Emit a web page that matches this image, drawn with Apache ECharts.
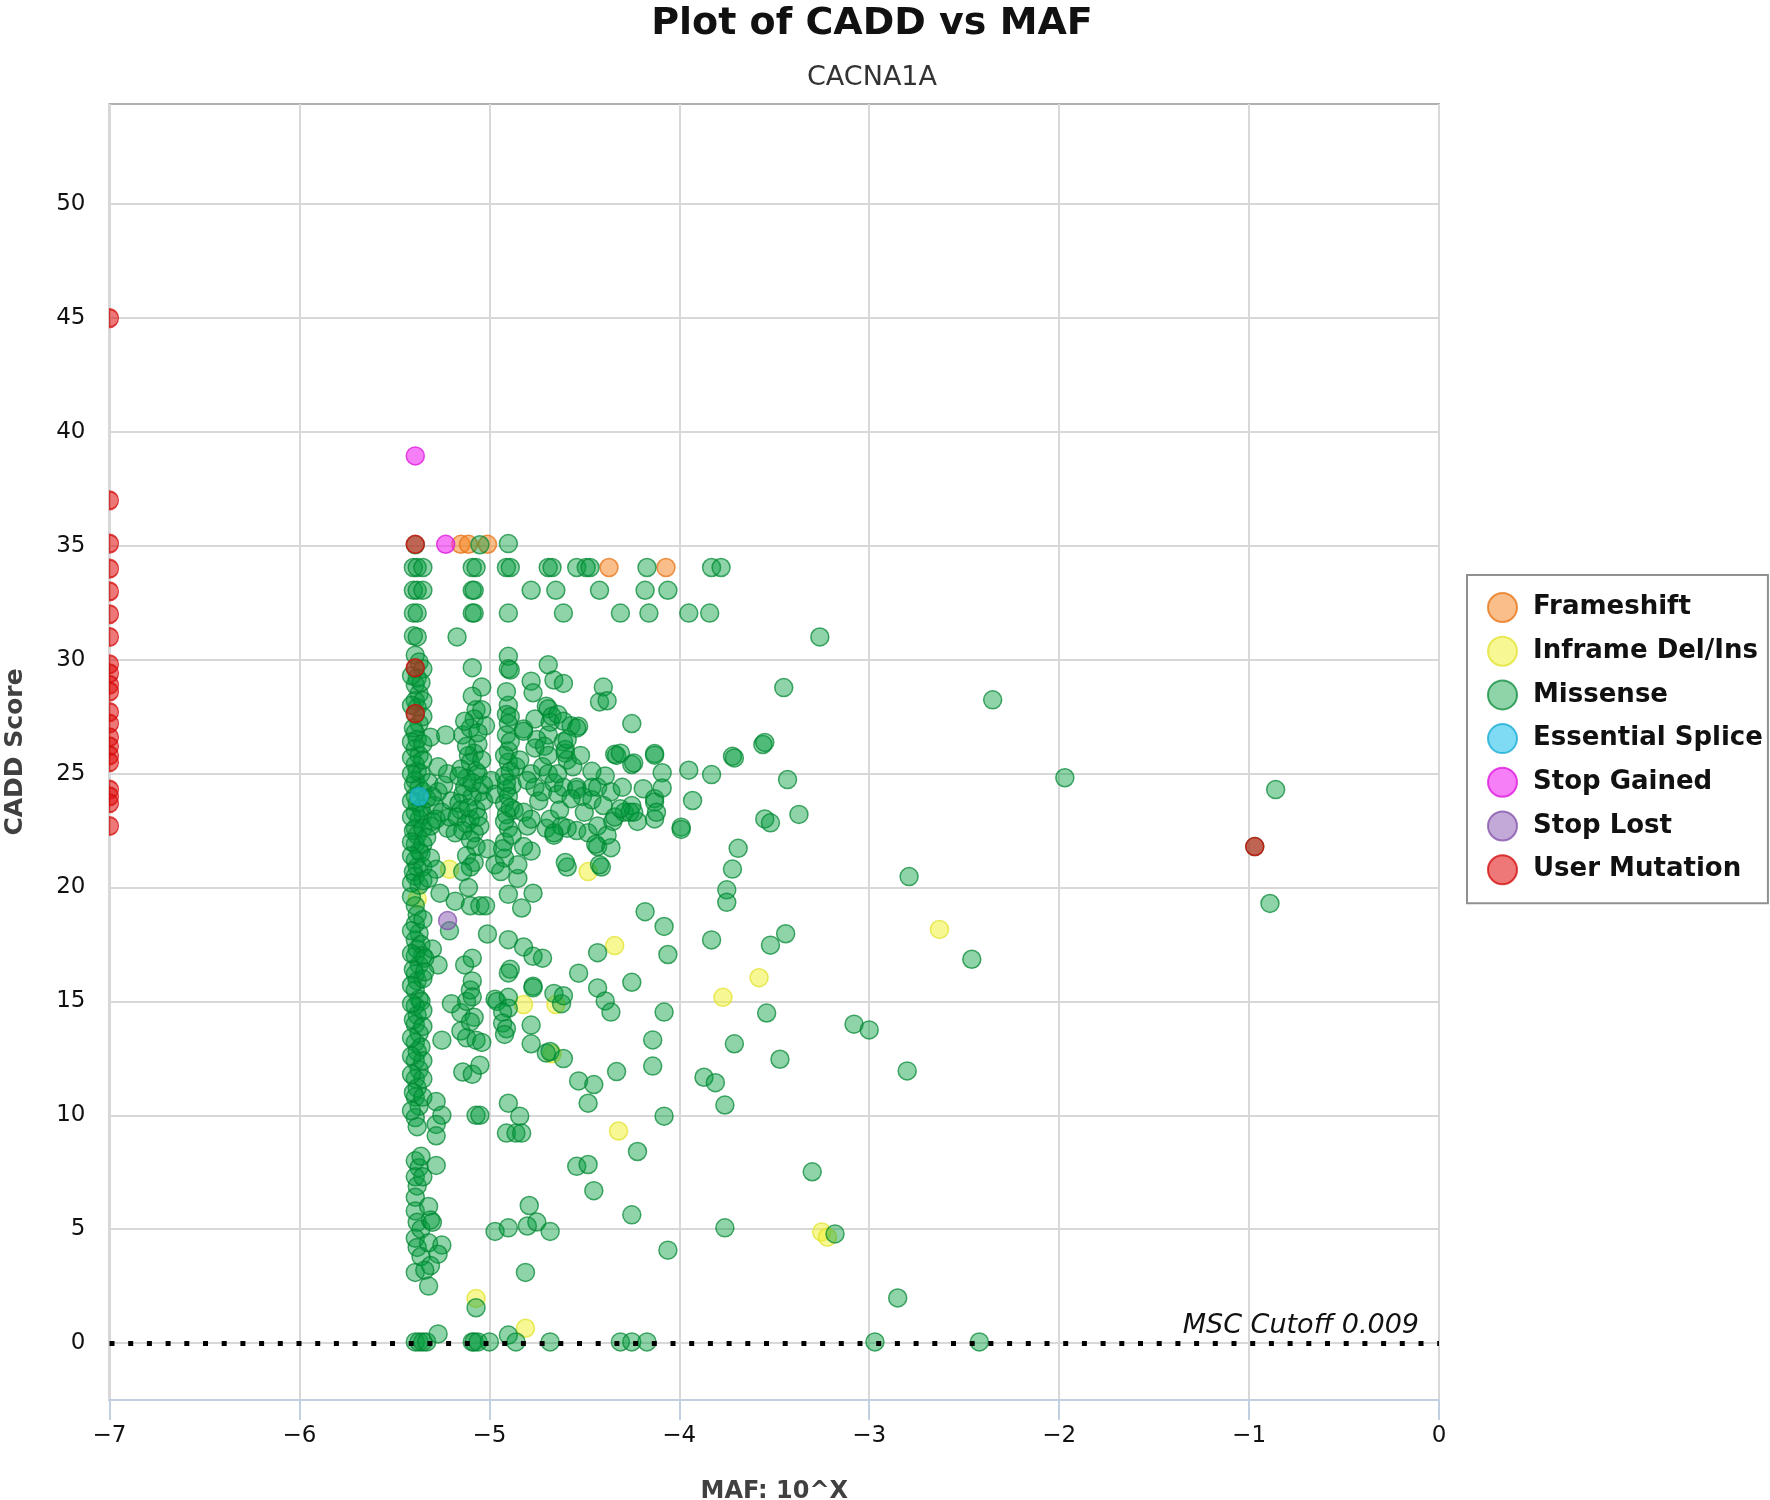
<!DOCTYPE html>
<html>
<head>
<meta charset="utf-8">
<script src="https://cdn.jsdelivr.net/npm/echarts@6/dist/echarts.min.js"></script>
<style>
html,body{margin:0;padding:0;background:#fff;}
#chart{width:1770px;height:1500px;}
</style>
</head>
<body>
<div id="chart"></div>
<script>
// ---------------- DATA ----------------
const categories = ['Frameshift', 'Inframe Del/Ins', 'Missense', 'Essential Splice', 'Stop Gained', 'Stop Lost', 'User Mutation'];
const xTicks = [-7, -6, -5, -4, -3, -2, -1, 0];
const yTicks = [0, 5, 10, 15, 20, 25, 30, 35, 40, 45, 50];
const cutoffValue = 0.009;
const cutoffLabel = 'MSC Cutoff 0.009';

const frameshift = [[-5.15,35.07],[-5.11,35.07],[-5.01,35.07],[-4.37,34.05],[-4.07,34.05]];

const inframe = [[-5.38,19.5],[-5.21,20.8],[-4.48,20.7],[-4.34,17.45],[-4.82,14.86],[-4.65,14.86],[-4.67,12.7],
  [-4.32,9.31],[-5.07,1.96],[-4.81,0.65],[-3.58,16.04],[-3.77,15.18],[-2.63,18.16],[-3.25,4.88],[-3.22,4.65]];

const missense = [
  // rows at the top
  [-5.39,35.05],[-5.05,35.05],[-4.90,35.1],
  [-5.40,34.05],[-5.38,34.05],[-5.35,34.05],[-5.09,34.05],[-5.07,34.05],[-4.91,34.05],[-4.89,34.05],[-4.69,34.05],[-4.67,34.05],[-4.54,34.05],[-4.49,34.05],[-4.47,34.05],[-4.17,34.05],[-3.83,34.05],[-3.78,34.05],
  [-5.40,33.05],[-5.38,33.05],[-5.35,33.05],[-5.09,33.05],[-5.08,33.05],[-4.78,33.05],[-4.65,33.05],[-4.42,33.05],[-4.18,33.05],[-4.06,33.05],
  [-5.40,32.05],[-5.38,32.05],[-5.09,32.05],[-5.08,32.05],[-4.90,32.05],[-4.61,32.05],[-4.31,32.05],[-4.16,32.05],[-3.95,32.05],[-3.84,32.05],
  [-5.40,31.05],[-5.38,31.0],[-5.17,31.0],[-3.26,31.0],
  // column near -5.4
  [-5.39,30.2],[-5.37,29.9],[-5.39,29.6],[-5.38,29.2],[-5.39,28.9],[-5.37,28.5],[-5.39,28.2],[-5.38,27.9],[-5.39,27.6],[-5.37,27.2],
  [-5.39,26.8],[-5.38,26.5],[-5.39,26.1],[-5.37,25.8],[-5.39,25.4],[-5.38,25.1],[-5.39,24.7],[-5.37,24.4],[-5.39,24.0],[-5.38,23.7],
  [-5.39,23.3],[-5.37,23.0],[-5.39,22.6],[-5.38,22.3],[-5.39,21.9],[-5.37,21.6],[-5.39,21.2],[-5.38,20.9],[-5.39,20.5],[-5.37,20.1],
  [-5.39,19.2],[-5.38,18.8],[-5.39,18.4],[-5.37,18.0],[-5.39,17.7],[-5.38,17.3],[-5.39,17.0],[-5.37,16.6],[-5.39,16.2],[-5.38,15.9],
  [-5.39,15.5],[-5.37,15.1],[-5.39,14.8],[-5.38,14.4],[-5.39,14.0],[-5.37,13.6],[-5.39,13.2],[-5.38,12.8],[-5.39,12.4],[-5.37,12.0],
  [-5.39,11.6],[-5.38,11.2],[-5.39,10.8],[-5.37,10.4],[-5.39,9.9],[-5.38,9.5],[-5.39,8.0],[-5.37,7.7],[-5.39,7.3],[-5.38,6.9],
  [-5.39,6.4],[-5.39,5.8],[-5.38,5.3],[-5.39,4.6],[-5.38,4.2],[-5.39,3.1],[-5.39,0.05],[-5.37,0.05],[-5.35,0.05],
  [-5.36,29.0],[-5.40,27.0],[-5.36,25.0],[-5.40,24.5],[-5.36,23.5],[-5.40,22.5],[-5.36,21.5],[-5.40,20.7],[-5.36,17.5],[-5.40,16.4],
  [-5.36,15.0],[-5.40,14.2],[-5.36,13.0],[-5.40,11.0],[-5.36,8.2],[-5.36,5.0],[-5.36,3.8],
  [-5.35,29.6],[-5.41,29.3],[-5.35,28.2],[-5.41,28.0],[-5.35,27.5],[-5.41,26.4],[-5.35,26.3],[-5.41,25.7],[-5.35,25.6],[-5.41,25.0],
  [-5.35,24.2],[-5.41,23.8],[-5.35,23.2],[-5.41,23.1],[-5.35,22.6],[-5.41,22.0],[-5.35,21.9],[-5.41,21.4],[-5.35,20.9],[-5.41,20.2],
  [-5.35,20.3],[-5.41,19.6],[-5.35,18.6],[-5.41,18.1],[-5.35,17.0],[-5.41,17.1],[-5.35,16.0],[-5.41,15.7],[-5.35,14.6],[-5.41,14.9],
  [-5.35,13.9],[-5.41,13.4],[-5.35,12.4],[-5.41,12.6],[-5.35,11.6],[-5.41,11.8],[-5.35,10.8],[-5.41,10.2],
  // right of the column
  [-5.31,26.6],[-5.23,26.7],[-5.14,26.7],[-5.32,24.6],[-5.27,24.2],[-5.29,23.6],[-5.25,23.3],[-5.30,22.9],[-5.22,22.6],[-5.31,22.7],
  [-5.33,23.9],[-5.28,23.0],[-5.24,24.5],[-5.20,23.8],[-5.18,22.4],[-5.22,25.0],[-5.27,25.3],[-5.33,22.2],[-5.30,24.0],[-5.21,23.1],
  [-5.31,21.3],[-5.28,20.8],[-5.32,20.4],[-5.26,19.75],[-5.18,19.4],[-5.21,18.1],[-5.30,17.3],[-5.27,16.6],[-5.34,16.9],[-5.34,16.3],
  [-5.13,16.6],[-5.09,16.9],[-5.20,14.9],[-5.15,14.5],[-5.12,15.0],[-5.10,15.5],[-5.09,15.9],[-5.09,15.2],[-5.08,14.3],[-5.10,14.1],
  [-5.15,13.7],[-5.12,13.4],[-5.07,13.3],[-5.04,13.2],[-5.25,13.3],[-5.14,11.9],[-5.09,11.8],[-5.05,12.2],[-5.28,10.6],[-5.25,10.0],
  [-5.28,9.6],[-5.28,9.1],[-5.07,10.0],[-5.05,10.0],[-5.28,7.8],[-5.35,7.3],[-5.32,6.0],[-5.31,5.4],[-5.30,5.3],[-5.32,4.4],
  [-5.25,4.3],[-5.27,3.9],[-5.31,3.4],[-5.34,3.2],[-5.32,2.5],[-5.33,0.05],[-5.27,0.4],
  // blob near -5.1
  [-5.09,29.65],[-5.04,28.8],[-5.09,28.4],[-5.07,27.8],[-5.04,27.8],[-5.08,27.4],[-5.02,27.1],[-5.10,27.0],[-5.06,26.3],[-5.08,25.9],
  [-5.11,25.8],[-5.10,25.5],[-5.07,25.1],[-5.06,25.0],[-5.12,24.8],[-5.13,24.4],[-5.14,24.1],[-5.05,24.2],[-5.09,24.0],[-5.03,23.8],
  [-5.16,23.7],[-5.15,23.4],[-5.07,23.4],[-5.17,23.1],[-5.10,23.0],[-5.12,22.8],[-5.05,22.7],[-5.08,22.4],
  [-5.13,27.3],[-5.06,26.8],[-5.12,26.2],[-5.04,25.6],[-5.15,25.2],[-5.09,24.6],[-5.03,24.5],[-5.16,24.9],[-5.11,23.5],[-5.06,23.1],
  [-5.14,22.5],[-5.10,22.1],[-5.07,21.8],[-5.12,21.4],[-5.08,21.1],
  [-5.10,20.9],[-5.14,20.7],[-5.11,20.0],[-5.10,19.2],[-5.05,19.2],[-5.02,19.2],
  // -5.0 to -4.75
  [-5.01,21.7],[-4.97,21.0],[-4.92,21.3],[-4.94,20.7],[-4.85,20.4],[-4.77,19.75],[-4.83,19.1],[-4.90,19.7],[-4.85,21.0],[-4.78,21.6],
  [-4.99,24.7],[-4.97,24.1],
  [-4.90,30.15],[-4.90,29.6],[-4.89,29.55],[-4.90,28.0],[-4.91,27.6],[-4.89,27.5],[-4.90,27.2],[-4.91,26.7],[-4.90,26.0],[-4.90,25.5],
  [-4.92,24.9],[-4.91,24.3],[-4.92,23.7],[-4.91,23.2],[-4.90,22.6],[-4.92,22.0],[-4.88,24.5],[-4.87,23.4],[-4.86,25.3],
  [-4.91,28.6],[-4.89,26.4],[-4.92,25.8],[-4.89,25.1],[-4.91,24.6],[-4.90,24.0],[-4.89,23.5],[-4.92,22.9],[-4.88,22.3],[-4.93,21.7],
  [-4.82,26.96],[-4.78,25.0],[-4.76,24.4],[-4.75,26.5],[-4.76,27.4],[-4.82,23.3],[-4.80,22.7],[-4.82,21.8],[-4.78,29.06],[-4.77,28.55],
  [-4.82,26.86],[-4.76,26.13],
  [-4.84,25.6],[-4.80,24.7],[-4.74,23.8],[-4.72,25.3],[-4.78,23.0],[-4.70,22.6],[-4.72,24.2],
  // -4.72 to -4.5
  [-4.69,29.78],[-4.66,29.11],[-4.61,28.96],[-4.70,27.96],[-4.69,27.85],[-4.68,27.26],[-4.67,27.52],[-4.69,26.7],[-4.71,26.2],[-4.69,25.8],
  [-4.69,25.0],[-4.66,24.6],[-4.64,24.1],[-4.68,23.0],[-4.66,22.3],[-4.64,27.6],[-4.61,27.3],[-4.57,27.1],[-4.53,27.08],[-4.61,26.4],
  [-4.60,25.9],[-4.59,25.6],[-4.61,24.4],[-4.54,24.4],[-4.62,22.7],[-4.59,22.6],[-4.54,22.5],[-4.54,24.3],[-4.51,24.0],[-4.54,27.0],
  [-4.59,20.9],[-4.60,26.06],[-4.59,26.5],[-4.66,22.4],[-4.60,21.1],
  [-4.63,23.4],[-4.57,23.9],[-4.50,23.3],[-4.48,22.4],[-4.56,25.3],[-4.52,25.8],[-4.64,25.0],
  // -4.5 to -4.2
  [-4.46,24.4],[-4.46,23.85],[-4.43,24.4],[-4.39,24.9],[-4.36,24.2],[-4.43,22.7],[-4.35,22.9],[-4.29,23.3],[-4.25,23.6],[-4.22,22.9],
  [-4.34,25.85],[-4.33,25.8],[-4.25,25.4],[-4.43,21.8],[-4.41,20.9],[-4.40,28.8],[-4.42,28.15],[-4.38,28.2],[-4.25,27.2],[-4.44,21.9],
  [-4.42,21.0],[-4.34,23.1],[-4.26,23.3],[-4.24,25.47],[-4.36,21.75],
  [-4.46,25.1],[-4.40,23.6],[-4.38,22.3],[-4.30,24.4],
  // -4.3 to -3.9
  [-4.31,25.9],[-4.13,25.88],[-4.13,25.81],[-4.09,25.04],[-3.95,25.15],[-3.83,24.96],[-4.19,24.34],[-4.13,23.9],[-4.13,23.75],[-4.09,24.37],
  [-4.24,23.31],[-4.31,23.46],[-4.13,23.01],[-3.93,23.82],[-3.99,22.65],[-3.99,22.55],[-4.12,23.3],
  // -3.9 to -3.0
  [-3.72,25.76],[-3.71,25.69],[-3.56,26.28],[-3.55,26.37],[-3.43,24.74],[-3.55,23.01],[-3.52,22.84],[-3.37,23.21],[-3.69,21.72],[-3.72,20.81],
  [-3.75,19.9],[-3.75,19.35],[-3.45,28.78],[-3.83,17.7],[-3.52,17.47],[-3.44,17.97],[-3.54,14.49],[-3.71,13.14],[-3.87,11.67],[-3.81,11.43],
  [-3.76,10.45],[-3.76,5.06],[-3.47,12.46],[-3.08,14.0],[-3.00,13.75],[-3.30,7.52],[-3.18,4.79],
  // far right
  [-2.80,11.95],[-2.85,1.98],[-2.97,0.05],[-2.42,0.05],[-2.35,28.24],[-1.97,24.82],[-2.79,20.48],[-2.46,16.85],[-0.86,24.3],[-0.89,19.3],[-0.97,21.8],
  // lower middle
  [-5.01,17.96],[-4.90,17.71],[-4.82,17.39],[-4.77,16.98],[-4.72,16.9],[-4.89,16.41],[-4.90,16.25],[-4.77,15.67],[-4.77,15.6],[-4.97,15.1],
  [-4.96,15.0],[-4.90,15.18],[-4.90,14.7],[-4.93,14.53],[-4.93,14.05],[-4.91,13.8],[-4.92,13.55],[-4.78,13.96],[-4.78,13.14],[-4.70,12.73],
  [-4.68,12.8],[-4.61,12.49],[-4.62,14.9],[-4.66,15.35],[-4.61,15.25],
  [-4.53,16.24],[-4.43,17.14],[-4.43,15.59],[-4.39,15.02],[-4.36,14.53],[-4.25,15.84],[-4.53,11.51],[-4.45,11.35],[-4.48,10.53],[-4.33,11.92],
  [-4.14,12.16],[-4.08,14.53],[-4.14,13.31],[-4.18,18.94],[-4.08,18.29],[-4.06,17.06],[-4.08,9.96],[-4.22,8.41],[-4.54,7.76],[-4.48,7.84],
  [-4.45,6.69],[-4.25,5.63],[-4.06,4.08],
  [-4.90,10.53],[-4.84,9.96],[-4.91,9.22],[-4.86,9.22],[-4.83,9.22],[-4.79,6.04],[-4.80,5.14],[-4.75,5.31],[-4.68,4.9],[-4.97,4.9],
  [-4.90,5.06],[-4.81,3.1],[-5.07,1.55],
  // bottom row
  [-5.09,0.05],[-5.08,0.05],[-5.06,0.05],[-5.00,0.05],[-4.90,0.35],[-4.86,0.05],[-4.68,0.05],[-4.31,0.05],[-4.25,0.05],[-4.17,0.05]
];

const essentialSplice = [[-5.37,24.0]];
const stopGained = [[-5.39,38.95],[-5.23,35.07]];
const stopLost = [[-5.22,18.55]];
// user mutations without MAF sit at the left edge (10^-7)
const userMutationNoMaf = [[-7,45.0],[-7,37.0],[-7,35.1],[-7,34.0],[-7,33.0],[-7,32.0],[-7,31.0],[-7,29.8],[-7,29.4],[-7,28.9],
  [-7,28.6],[-7,27.7],[-7,27.2],[-7,26.6],[-7,26.2],[-7,25.8],[-7,25.5],[-7,24.3],[-7,24.0],[-7,23.7],[-7,22.7]];
const userMutation = [[-5.39,35.07],[-5.39,29.65],[-5.39,27.64],[-0.97,21.8]];

// ---------------- STYLE ----------------
const FONT = 'DejaVu Sans';
const styles = {
  'Frameshift':      {color: 'rgba(245,130,30,0.65)', borderColor: 'rgba(230,115,20,0.95)'},
  'Inframe Del/Ins': {color: 'rgba(240,240,50,0.65)', borderColor: 'rgba(225,225,40,0.9)'},
  'Missense':        {color: 'rgba(0,155,60,0.55)',   borderColor: 'rgba(0,135,50,0.9)'},
  'Essential Splice':{color: 'rgba(40,195,235,0.75)', borderColor: 'rgba(20,170,210,0.95)'},
  'Stop Gained':     {color: 'rgba(240,40,240,0.75)', borderColor: 'rgba(220,20,220,0.95)'},
  'Stop Lost':       {color: 'rgba(140,90,180,0.65)', borderColor: 'rgba(130,80,170,0.95)'},
  'User Mutation':   {color: 'rgba(225,20,20,0.72)',  borderColor: 'rgba(210,10,10,0.95)'}
};
const dataByName = {
  'Frameshift': frameshift, 'Inframe Del/Ins': inframe, 'Missense': missense,
  'Essential Splice': essentialSplice, 'Stop Gained': stopGained, 'Stop Lost': stopLost,
  'User Mutation': userMutation
};

function scatter(name, data, extra) {
  return Object.assign({
    type: 'scatter', name: name, data: data,
    symbol: 'circle', symbolSize: 18,
    itemStyle: Object.assign({borderWidth: 1.5}, styles[name]),
    emphasis: {disabled: true}, clip: false
  }, extra || {});
}

const series = categories.map(n => scatter(n, dataByName[n]));
// no-MAF user mutations: shown as half discs against the left plot edge
series.push(scatter('User Mutation', userMutationNoMaf, {
  symbol: 'path://M0,0 A10,10 0 0,1 0,20 Z', symbolSize: [9, 18], symbolOffset: [4.5, 0]
}));
series.push({
  type: 'scatter', name: 'cutoff', data: [], z: 20,
  markLine: {
    silent: true, symbol: ['none', 'none'], animation: false,
    data: [{yAxis: cutoffValue}],
    lineStyle: {color: '#000', type: [5, 13.7], width: 5, cap: 'butt'},
    label: {show: true, position: 'insideEndTop', formatter: cutoffLabel, fontStyle: 'italic',
            fontSize: 27, color: '#111', fontFamily: FONT, distance: [20, 3]}
  }
});

const chart = echarts.init(document.getElementById('chart'), null, {renderer: 'canvas'});
chart.setOption({
  animation: false,
  backgroundColor: '#fff',
  textStyle: {fontFamily: FONT},
  title: {
    text: 'Plot of CADD vs MAF', subtext: 'CACNA1A',
    left: 872, top: 5, textAlign: 'center', padding: 0, itemGap: 21.5,
    textStyle: {fontSize: 38, fontWeight: 'bold', color: '#111', fontFamily: FONT},
    subtextStyle: {fontSize: 27, color: '#333', fontFamily: FONT}
  },
  legend: {
    orient: 'vertical', left: 1467, top: 575,
    data: categories.map(n => ({name: n, icon: 'circle'})),
    itemWidth: 29, itemHeight: 29, itemGap: 12.7,
    padding: [17, 5, 18, 20],
    borderColor: '#909090', borderWidth: 2,
    selectedMode: false,
    textStyle: {fontSize: 26, lineHeight: 29, fontWeight: 'bold', color: '#111', fontFamily: FONT, padding: [0, 0, 0, 11]}
  },
  grid: {left: 109.5, right: 331, top: 104, bottom: 100, show: true, borderColor: '#b0b0b0', borderWidth: 2,
         outerBoundsMode: 'none', containLabel: false},
  xAxis: {
    type: 'value', min: xTicks[0], max: xTicks[xTicks.length - 1], interval: 1,
    name: 'MAF: 10^X', nameLocation: 'middle', nameGap: 80,
    nameTextStyle: {fontSize: 24, fontWeight: 'bold', color: '#404040', fontFamily: FONT},
    axisLine: {show: true, onZero: false, lineStyle: {color: '#c0d0e0', width: 2}},
    axisTick: {show: true, length: 20, lineStyle: {color: '#c0d0e0', width: 2}},
    axisLabel: {fontSize: 23, color: '#111', margin: 25, fontFamily: FONT,
                formatter: v => String(v).replace('-', '\u2212')},
    splitLine: {show: true, lineStyle: {color: '#d8d8d8', width: 2}}
  },
  yAxis: {
    type: 'value', min: -2.5, max: 54.4,
    name: 'CADD Score', nameLocation: 'middle', nameGap: 82, nameRotate: 90,
    nameTextStyle: {fontSize: 25, fontWeight: 'bold', color: '#404040', fontFamily: FONT},
    axisLine: {show: false},
    axisTick: {show: false, customValues: yTicks},
    axisLabel: {customValues: yTicks, fontSize: 23, color: '#111', margin: 24, fontFamily: FONT},
    splitLine: {show: true, lineStyle: {color: '#d8d8d8', width: 2}}
  },
  series: series
});
</script>
</body>
</html>
